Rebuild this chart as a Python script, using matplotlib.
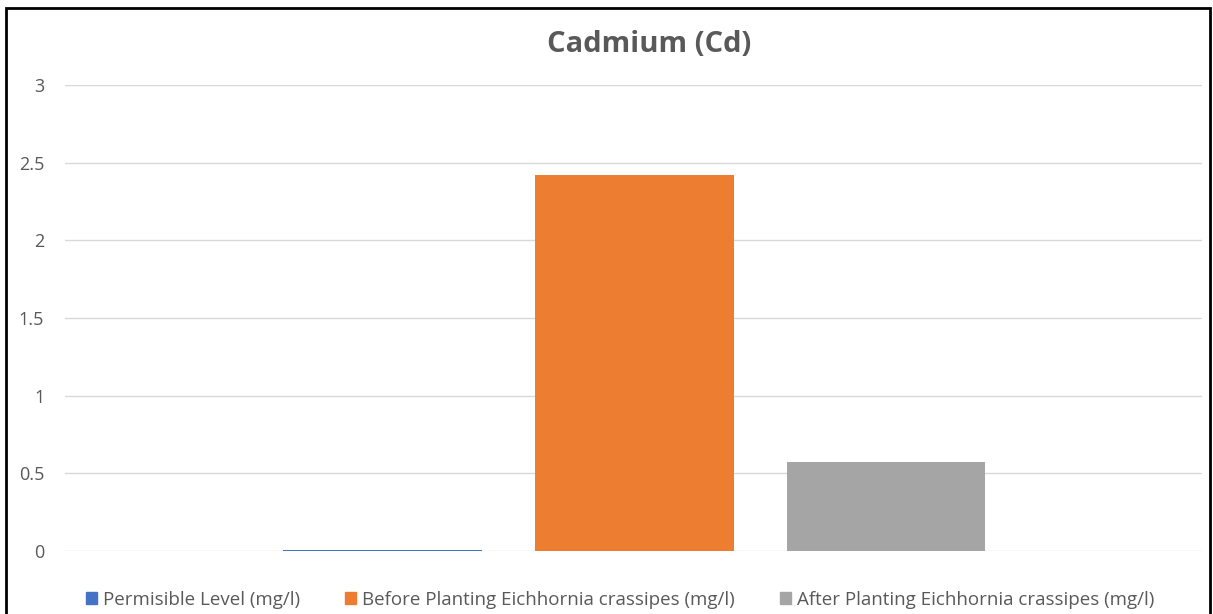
import matplotlib.pyplot as plt
from matplotlib.patches import Patch, Rectangle

plt.rcParams['font.family'] = ['Open Sans', 'DejaVu Sans']

series = ['Permisible Level (mg/l)',
          'Before Planting Eichhornia crassipes (mg/l)',
          'After Planting Eichhornia crassipes (mg/l)']
values = [0.005, 2.42, 0.57]
colors = ['#4472C4', '#ED7D31', '#A5A5A5']
yticks = [0, 0.5, 1, 1.5, 2, 2.5, 3]
ytick_labels = ['0', '0.5', '1', '1.5', '2', '2.5', '3']

fig = plt.figure(figsize=(12.13, 6.14), dpi=100)
ax = fig.add_axes([65 / 1213, 1 - 551 / 614, 1137 / 1213, 466 / 614])

for i, (v, c) in enumerate(zip(values, colors)):
    ax.bar(i, v, width=0.79, color=c, zorder=3)

ax.set_xlim(-1.262, 3.256)
ax.set_ylim(0, 3)
ax.set_yticks(yticks)
ax.set_yticklabels(ytick_labels)
ax.set_xticks([])
ax.grid(axis='y', color='#D9D9D9', linewidth=1, zorder=0)
for s in ax.spines.values():
    s.set_visible(False)
ax.tick_params(axis='y', length=0, pad=15, labelsize=13, labelcolor='#595959')

fig.text(649 / 1213, 1 - 45 / 614, 'Cadmium (Cd)', ha='center', va='center',
         fontsize=21, fontweight='bold', color='#595959')

handles = [Patch(color=c, label=s) for s, c in zip(series, colors)]
fig.legend(handles=handles, loc='center', bbox_to_anchor=(620 / 1213, 1 - 600 / 614),
           ncol=3, frameon=False, fontsize=13.5, labelcolor='#595959',
           handlelength=0.6, handleheight=0.6, handletextpad=0.3, columnspacing=2.4)

# outer border
fig.add_artist(Rectangle((6 / 1213, -0.01), 1204 / 1213, 1 - 8 / 614 + 0.01,
                         transform=fig.transFigure, fill=False,
                         edgecolor='black', linewidth=2))

fig.savefig('out.png', dpi=100)
